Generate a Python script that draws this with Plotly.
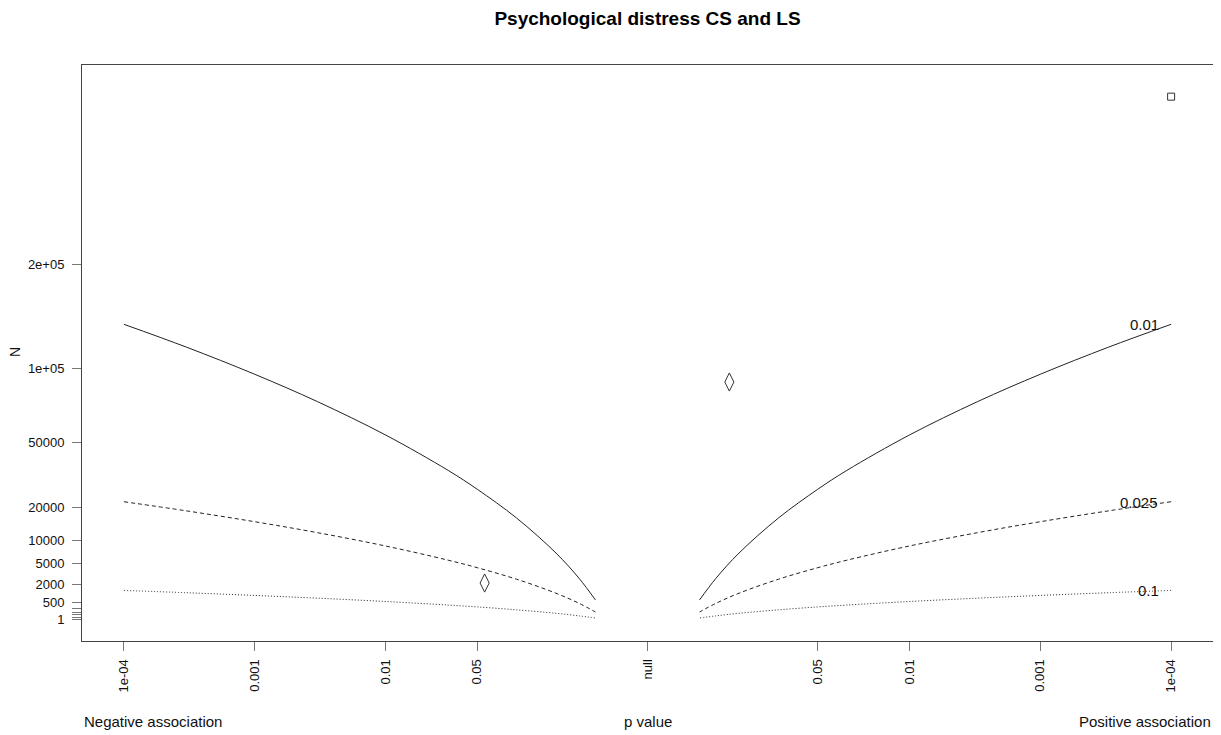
import numpy as np
import plotly.graph_objects as go

# ---- data ----
# contour p-values (one side of the plot; mirrored on the other side)
contour_p = [1e-4, 3e-4, 1e-3, 3e-3, 0.01, 0.03, 0.05, 0.1, 0.2, 0.3, 0.4]
# N along each effect-size contour at those p-values
contour_001 = [138300, 117800, 95500, 75500, 54100, 35400, 27060, 16440, 7090, 2750, 640]
contour_0025 = [22130, 18850, 15280, 12080, 8660, 5660, 4330, 2630, 1135, 440, 103]
contour_01 = [1383, 1178, 955, 755, 541, 354, 271, 164, 71, 27, 6.4]
contour_names = ["0.01", "0.025", "0.1"]

# studies: p value, direction (-1 negative, +1 positive), N, marker
study_p = [0.057, 0.237, 1e-4]
study_dir = [-1, 1, 1]
study_n = [2165, 89600, 433200]
study_symbol = ["diamond-tall-open", "diamond-tall-open", "square-open"]

# axis ticks
x_tick_p = [1e-4, 0.001, 0.01, 0.05, 1, 0.05, 0.01, 0.001, 1e-4]
x_tick_dir = [-1, -1, -1, -1, 0, 1, 1, 1, 1]
x_tick_text = ["1e-04", "0.001", "0.01", "0.05", "null", "0.05", "0.01", "0.001", "1e-04"]
y_tick_vals = [1, 10, 50, 100, 200, 500, 2000, 5000, 10000, 20000, 50000, 100000, 200000]
y_tick_text = ["1", "", "", "", "", "500", "2000", "5000", "10000", "20000", "50000", "1e+05", "2e+05"]

# contour label positions (p, N)
label_p = [1.6e-4, 1.75e-4, 1.5e-4]
label_n = [138500, 22000, 1420]


def xpos(p, d):
    return d * (-np.log10(np.asarray(p, dtype=float)))


def ypos(n):
    return np.sqrt(np.asarray(n, dtype=float))


fig = go.Figure()
line_color = "#222222"
dashes = ["solid", "4px,3px", "1px,2px"]
for vals, dash in zip([contour_001, contour_0025, contour_01], dashes):
    for side in (-1, 1):
        fig.add_trace(go.Scatter(
            x=xpos(contour_p, side), y=ypos(vals), mode="lines",
            line=dict(color=line_color, width=1, dash=dash, shape="spline"),
            hoverinfo="skip", showlegend=False))

for p, d, n, sym in zip(study_p, study_dir, study_n, study_symbol):
    fig.add_trace(go.Scatter(
        x=[xpos(p, d)], y=[ypos(n)], mode="markers",
        marker=dict(symbol=sym, size=13 if "diamond" in sym else 7,
                    color="#333333", line=dict(color="#333333", width=1)),
        showlegend=False))

annotations = []
for name, p, n in zip(contour_names, label_p, label_n):
    annotations.append(dict(x=float(xpos(p, 1)), y=float(ypos(n)), xref="x", yref="y",
                            text=name, showarrow=False,
                            font=dict(size=15, color="#111111"),
                            xanchor="center", yanchor="middle"))

font_family = "Liberation Sans, Arial, sans-serif"
annotations += [
    dict(x=0, y=-0.139, xref="paper", yref="paper", text="Negative association",
         showarrow=False, xanchor="left", yanchor="middle", font=dict(size=15, color="#111")),
    dict(x=0.5, y=-0.139, xref="paper", yref="paper", text="p value",
         showarrow=False, xanchor="center", yanchor="middle", font=dict(size=15, color="#111")),
    dict(x=1, y=-0.139, xref="paper", yref="paper", text="Positive association",
         showarrow=False, xanchor="right", yanchor="middle", font=dict(size=15, color="#111")),
    dict(x=-0.0592, y=0.502, xref="paper", yref="paper", text="N", textangle=-90,
         showarrow=False, xanchor="center", yanchor="middle", font=dict(size=14, color="#111")),
]

fig.update_layout(
    width=1213, height=727,
    margin=dict(l=74, r=8, t=57, b=94),
    paper_bgcolor="white", plot_bgcolor="white",
    font=dict(family=font_family, color="#111"),
    title=dict(text="<b>Psychological distress CS and LS</b>", x=0.5, xref="paper", xanchor="center",
               y=1 - 10 / 727, yanchor="middle", font=dict(size=19, color="#000")),
    annotations=annotations,
    xaxis=dict(range=[-4.32, 4.32], showgrid=False, zeroline=False,
               showline=True, mirror=True, linecolor="#444", linewidth=1,
               ticks="outside", ticklen=9, tickcolor="#777", ticklabelstandoff=3,
               tickvals=[float(v) for v in xpos(x_tick_p, np.array(x_tick_dir))],
               ticktext=x_tick_text, tickangle=-90, tickfont=dict(size=13, color="#111")),
    yaxis=dict(range=[-26.4, 698], showgrid=False, zeroline=False,
               showline=True, mirror=True, linecolor="#444", linewidth=1,
               ticks="outside", ticklen=9, tickcolor="#777", ticklabelstandoff=5,
               tickvals=[float(v) for v in ypos(y_tick_vals)], ticktext=y_tick_text,
               tickfont=dict(size=13, color="#111")),
)

fig.write_html("out.html")
